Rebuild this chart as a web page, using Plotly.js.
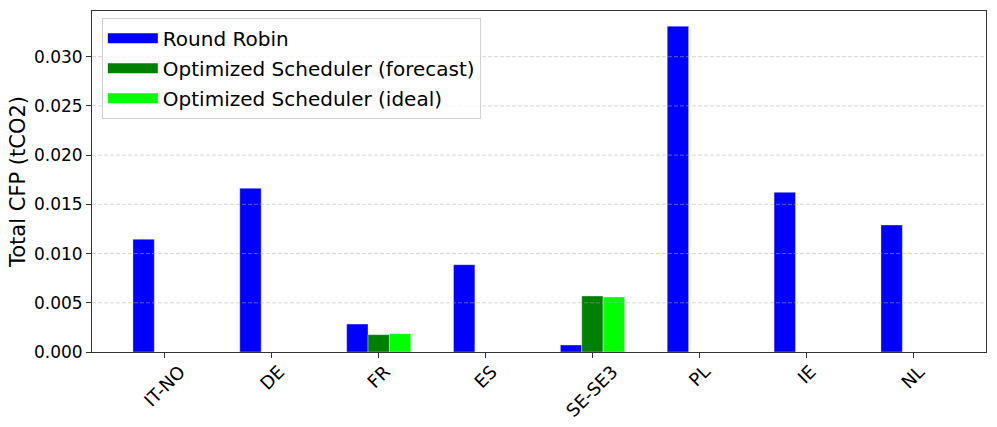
<!DOCTYPE html>
<html>
<head>
<meta charset="utf-8">
<script src="https://cdn.plot.ly/plotly-3.0.1.min.js"></script>
<style>html,body{margin:0;padding:0;background:#fff;}#chart{width:997px;height:427px;}</style>
</head>
<body>
<div id="chart"></div>
<script>
const categories = ["IT-NO", "DE", "FR", "ES", "SE-SE3", "PL", "IE", "NL"];
const seriesNames = ["Round Robin", "Optimized Scheduler (forecast)", "Optimized Scheduler (ideal)"];
const seriesColors = ["#0000ff", "#008000", "#00ff00"];
const roundRobin = [0.01145, 0.01663, 0.00284, 0.00887, 0.00071, 0.03309, 0.01622, 0.0129];
const forecast = [0, 0, 0.00176, 0, 0.00569, 0, 0, 0];
const ideal = [0, 0, 0.00186, 0, 0.00559, 0, 0, 0];
const yTicks = [0.000, 0.005, 0.010, 0.015, 0.020, 0.025, 0.030];
const yTickText = ["0.000", "0.005", "0.010", "0.015", "0.020", "0.025", "0.030"];

const FAM = "DejaVu Sans, sans-serif";
const tickFont = {family: FAM, size: 17, color: "#000"};
const xTickFont = {family: FAM, size: 18, color: "#000"};
const edge = {color: "rgba(255,255,255,0.35)", width: 1};
const seriesValues = [roundRobin, forecast, ideal];

const traces = seriesValues.map((vals, i) => ({
  type: "bar", name: seriesNames[i], x: categories, y: vals,
  marker: {color: seriesColors[i], line: edge}, showlegend: false
}));

// legend-only swatch entries (no data points)
seriesNames.forEach((n, i) => {
  traces.push({
    type: "scatter", mode: "lines", name: n, x: [null], y: [null],
    line: {color: seriesColors[i], width: 17}, legendgroup: "g" + i, showlegend: true,
    hoverinfo: "skip"
  });
});

const gridShapes = yTicks.slice(1).map(v => ({
  type: "line", xref: "paper", yref: "y", x0: 0, x1: 1, y0: v, y1: v,
  layer: "above", line: {color: "rgba(176,176,176,0.5)", width: 1, dash: "4px,2px"}
}));

const tickAnnotations = categories.map(c => ({
  x: c, xref: "x", y: 0, yref: "paper", yshift: -6,
  text: c, showarrow: false, textangle: -45,
  xanchor: "center", yanchor: "top", font: xTickFont
}));

const layout = {
  width: 997, height: 427,
  margin: {l: 92, r: 11, t: 11, b: 75},
  paper_bgcolor: "#fff", plot_bgcolor: "#fff",
  font: {family: FAM, size: 17, color: "#000"},
  barmode: "group", bargap: 0.4, bargroupgap: 0,
  showlegend: true,
  legend: {
    x: 0.011, y: 0.98, xanchor: "left", yanchor: "top",
    bgcolor: "rgba(255,255,255,0.8)", bordercolor: "#d0d0d0", borderwidth: 1,
    font: {family: FAM, size: 20, color: "#000"},
    tracegroupgap: 1, itemwidth: 50
  },
  xaxis: {
    type: "category", range: [-0.683, 7.683],
    showticklabels: false, ticks: "outside", ticklen: 5, tickcolor: "#333",
    showline: true, linecolor: "#333", linewidth: 1, mirror: true,
    showgrid: false, automargin: false
  },
  yaxis: {
    range: [0, 0.03464], tickvals: yTicks, ticktext: yTickText,
    ticks: "outside", ticklen: 5, tickcolor: "#333",
    showline: true, linecolor: "#333", linewidth: 1, mirror: true,
    showgrid: false, zeroline: false, tickfont: tickFont, automargin: false,
    title: {text: "Total CFP (tCO2)", font: {family: FAM, size: 21, color: "#000"}, standoff: 2}
  },
  shapes: gridShapes,
  annotations: tickAnnotations
};

Plotly.newPlot("chart", traces, layout, {staticPlot: true, displayModeBar: false});
</script>
</body>
</html>
